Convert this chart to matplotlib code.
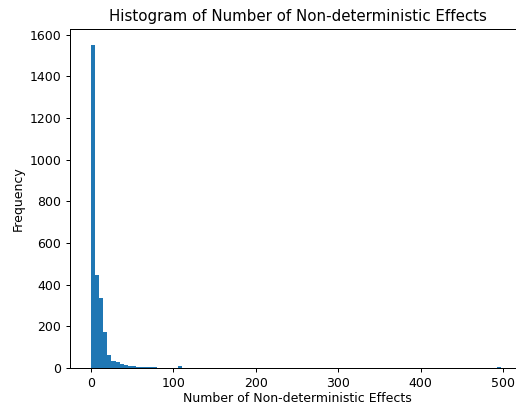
import numpy as np
import matplotlib
matplotlib.use('Agg')
import matplotlib.pyplot as plt

# Conteos por bin (100 bins entre 0 y ~502)
counts = [1550, 447, 338, 174, 60, 35, 29, 21, 14, 11,
          8, 6, 5, 4, 3, 3, 2, 2, 2, 1,
          2, 10, 1, 1, 0, 1, 0, 1, 0, 0,
          1, 0, 0, 1, 0, 0, 0, 0, 1, 0,
          0, 0, 0, 0, 0, 0, 0, 0, 0, 0,
          0, 0, 0, 0, 0, 0, 0, 0, 0, 0,
          0, 0, 0, 0, 0, 0, 0, 0, 0, 0,
          0, 0, 0, 0, 0, 0, 0, 0, 0, 0,
          0, 0, 0, 0, 0, 0, 0, 0, 0, 0,
          0, 0, 0, 0, 0, 1, 2, 1, 3, 2]
x_min = 0
x_max = 502

edges = np.linspace(x_min, x_max, len(counts) + 1)
centers = (edges[:-1] + edges[1:]) / 2

dpi = 90
fig = plt.figure(figsize=(516 / dpi, 406 / dpi), dpi=dpi)
ax = fig.add_axes([70 / 516, 38 / 406, (525.5 - 70) / 516, (368 - 29) / 406])
ax.hist(centers, bins=edges, weights=counts, color='#1f77b4')
ax.set_ylim(0, 1627)
ax.set_yticks(range(0, 1601, 200))
ax.set_xticks(range(0, 501, 100))
ax.set_title('Histogram of Number of Non-deterministic Effects', fontsize=12)
ax.set_xlabel('Number of Non-deterministic Effects', labelpad=1.5)
ax.set_ylabel('Frequency')
fig.savefig('out.png', dpi=dpi)
